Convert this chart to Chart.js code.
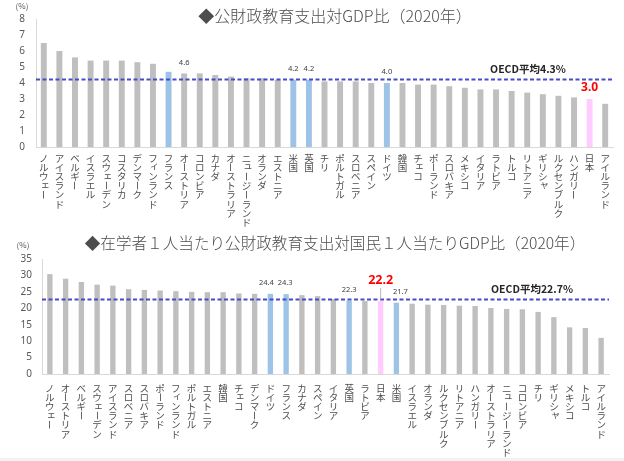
<!DOCTYPE html>
<html lang="ja">
<head>
<meta charset="utf-8">
<script src="https://cdn.jsdelivr.net/npm/chart.js@4.4.1/dist/chart.umd.min.js"></script>
<style>
  body { margin: 0; background: #f2f2f2; }
  #wrap { position: relative; width: 624px; height: 458px; background: #fff; }
  .box { position: absolute; left: 0; width: 624px; }
  #box1 { top: 0; height: 228px; }
  #box2 { top: 228px; height: 230px; }
</style>
</head>
<body>
<div id="wrap">
  <div class="box" id="box1"><canvas id="c1"></canvas></div>
  <div class="box" id="box2"><canvas id="c2"></canvas></div>
</div>
<script>
// --- chart 1 : 公財政教育支出対GDP比 ---
const countries1 = ['ノルウェー','アイスランド','ベルギー','イスラエル','スウェーデン','コスタリカ','デンマーク','フィンランド','フランス','オーストリア','コロンビア','カナダ','オーストラリア','ニュージーランド','オランダ','エストニア','米国','英国','チリ','ポルトガル','スロベニア','スペイン','ドイツ','韓国','チェコ','ポーランド','スロバキア','メキシコ','イタリア','ラトビア','トルコ','リトアニア','ギリシャ','ルクセンブルク','ハンガリー','日本','アイルランド'];
const values1 = [6.5, 6.0, 5.6, 5.4, 5.4, 5.4, 5.3, 5.2, 4.7, 4.6, 4.6, 4.5, 4.4, 4.3, 4.3, 4.2, 4.2, 4.2, 4.1, 4.1, 4.1, 4.0, 4.0, 4.0, 3.9, 3.9, 3.8, 3.7, 3.6, 3.6, 3.5, 3.4, 3.3, 3.2, 3.1, 3.0, 2.7];
const yTicks1 = [0, 1, 2, 3, 4, 5, 6, 7, 8];
const oecd1 = 4.22;            // 線の位置
const oecdText1 = 'OECD平均4.3%';
const blue1 = ['フランス','米国','英国','ドイツ'];
const shown1 = ['オーストリア','米国','英国','ドイツ'];

// --- chart 2 : 在学者1人当たり ---
const countries2 = ['ノルウェー','オーストリア','ベルギー','スウェーデン','アイスランド','スロベニア','スロバキア','ポーランド','フィンランド','ポルトガル','エストニア','韓国','チェコ','デンマーク','ドイツ','フランス','カナダ','スペイン','イタリア','英国','ラトビア','日本','米国','イスラエル','オランダ','ルクセンブルク','リトアニア','ハンガリー','オーストラリア','ニュージーランド','コロンビア','チリ','ギリシャ','メキシコ','トルコ','アイルランド'];
const values2 = [30.4, 29.0, 28.0, 27.2, 26.9, 25.8, 25.6, 25.4, 25.2, 25.0, 24.9, 24.9, 24.5, 24.4, 24.4, 24.3, 24.0, 23.7, 22.8, 22.3, 22.2, 22.2, 21.7, 21.4, 21.1, 21.0, 20.8, 20.7, 20.1, 19.8, 19.7, 18.9, 17.3, 14.2, 14.0, 11.0];
const yTicks2 = [0, 5, 10, 15, 20, 25, 30, 35];
const oecd2 = 22.7;
const oecdText2 = 'OECD平均22.7%';
const blue2 = ['ドイツ','フランス','英国','米国'];
const shown2 = ['ドイツ','フランス','英国','米国'];

const japan = '日本';
const GRAY = '#bfbfbf', BLUE = '#9dc3e6', PINK = '#ffccff';
const smallKana = 'ァィゥェォッャュョ';

function barColors(names, blues) {
  return names.map(n => n === japan ? PINK : (blues.includes(n) ? BLUE : GRAY));
}

// 縦書きの国名、タイトル、平均線、数値ラベル
function decor(o) {
  return {
    id: 'decor',
    afterDraw(chart) {
      const ctx = chart.ctx, area = chart.chartArea;
      const xs = chart.scales.x, ys = chart.scales.y;
      ctx.save();

      // title
      ctx.fillStyle = '#4d4d4d';
      ctx.font = '300 ' + o.titleSize + 'px "Noto Sans CJK JP"';
      ctx.textAlign = 'center';
      ctx.textBaseline = 'middle';
      ctx.fillText(o.title, 335, o.titleY);

      ctx.font = '8px "Noto Sans CJK JP"';
      ctx.fillStyle = '#595959';
      ctx.fillText('(%)', o.pctX, o.pctY);

      // average line
      const ly = ys.getPixelForValue(o.avg);
      ctx.strokeStyle = '#4a4ac8';
      ctx.lineWidth = 2;
      ctx.setLineDash([4, 2.5]);
      ctx.beginPath();
      ctx.moveTo(area.left, ly);
      ctx.lineTo(area.right, ly);
      ctx.stroke();
      ctx.setLineDash([]);

      ctx.font = 'bold 10.5px "Noto Sans CJK JP"';
      ctx.fillStyle = '#262626';
      ctx.fillText(o.avgText, o.avgX, ly - 10);

      // value labels
      const shift = o.shift || {};
      o.names.forEach((n, i) => {
        const x = xs.getPixelForValue(i) + (shift[n] || 0);
        const top = ys.getPixelForValue(o.values[i]);
        if (n === japan) {
          ctx.font = 'bold ' + o.redSize + 'px "Noto Sans"';
          ctx.fillStyle = '#ff0000';
          ctx.fillText(o.values[i].toFixed(1), x, top - o.redGap);
          if (o.redGap > 15) {
            ctx.strokeStyle = '#a6a6a6';
            ctx.lineWidth = 0.8;
            ctx.beginPath();
            ctx.moveTo(x, top - o.redGap + 8);
            ctx.lineTo(x, top - 1);
            ctx.stroke();
          }
        } else if (o.shown.includes(n)) {
          ctx.font = '7.5px "Noto Sans"';
          ctx.fillStyle = '#404040';
          ctx.fillText(o.values[i].toFixed(1), x, top - 11);
        }
      });

      // country names, one character per line
      ctx.font = '9.5px "Noto Sans CJK JP"';
      ctx.fillStyle = '#4d4d4d';
      o.names.forEach((n, i) => {
        const x = xs.getPixelForValue(i);
        [...n].forEach((ch, j) => {
          const y = area.bottom + o.labelTop + j * 9.2;
          if (ch === 'ー') {
            ctx.save();
            ctx.translate(x, y);
            ctx.rotate(Math.PI / 2);
            ctx.fillText(ch, 0, 0);
            ctx.restore();
          } else if (smallKana.includes(ch)) {
            ctx.fillText(ch, x + 1.5, y - 1.5);
          } else {
            ctx.fillText(ch, x, y);
          }
        });
      });
      ctx.restore();
    }
  };
}

function makeChart(id, names, values, ticks, blues, axisW, tickPad, padding, barPct, o) {
  const top = ticks[ticks.length - 1];
  return new Chart(document.getElementById(id), {
    type: 'bar',
    data: {
      labels: names,
      datasets: [{
        data: values,
        backgroundColor: barColors(names, blues),
        borderWidth: 0,
        categoryPercentage: 1,
        barPercentage: barPct
      }]
    },
    options: {
      responsive: true,
      maintainAspectRatio: false,
      animation: false,
      layout: { padding: padding },
      plugins: { legend: { display: false }, tooltip: { enabled: false }, title: { display: false } },
      scales: {
        x: {
          ticks: { display: false },
          grid: { display: false, drawTicks: false },
          border: { display: true, color: '#d9d9d9' }
        },
        y: {
          min: 0,
          max: top,
          afterBuildTicks: s => { s.ticks = ticks.map(v => ({ value: v })); },
          afterFit: s => { s.width = axisW; },
          ticks: { padding: tickPad, color: '#595959', font: { family: 'Noto Sans', size: 10 } },
          grid: { display: false, drawTicks: false },
          border: { display: true, color: '#d9d9d9' }
        }
      }
    },
    plugins: [decor(o)]
  });
}

makeChart('c1', countries1, values1, yTicks1, blue1, 36, 11,
  { left: 0, right: 11, top: 19, bottom: 81 }, 0.38,
  { title: '◆公財政教育支出対GDP比（2020年）', titleSize: 16, titleY: 16, pctX: 22, pctY: 6,
    avg: oecd1, avgText: oecdText1, avgX: 528, names: countries1, values: values1,
    shown: shown1, redSize: 12, redGap: 11, labelTop: 11 });

makeChart('c2', countries2, values2, yTicks2, blue2, 42, 10,
  { left: 0, right: 15, top: 31, bottom: 84 }, 0.34,
  { title: '◆在学者１人当たり公財政教育支出対国民１人当たりGDP比（2020年）', titleSize: 15.6, titleY: 15, pctX: 23, pctY: 17,
    avg: oecd2, avgText: oecdText2, avgX: 532, names: countries2, values: values2,
    shown: shown2, redSize: 12.5, redGap: 21, labelTop: 14,
    shift: { 'ドイツ': -4, 'フランス': -1, '米国': 4 } });
</script>
</body>
</html>
